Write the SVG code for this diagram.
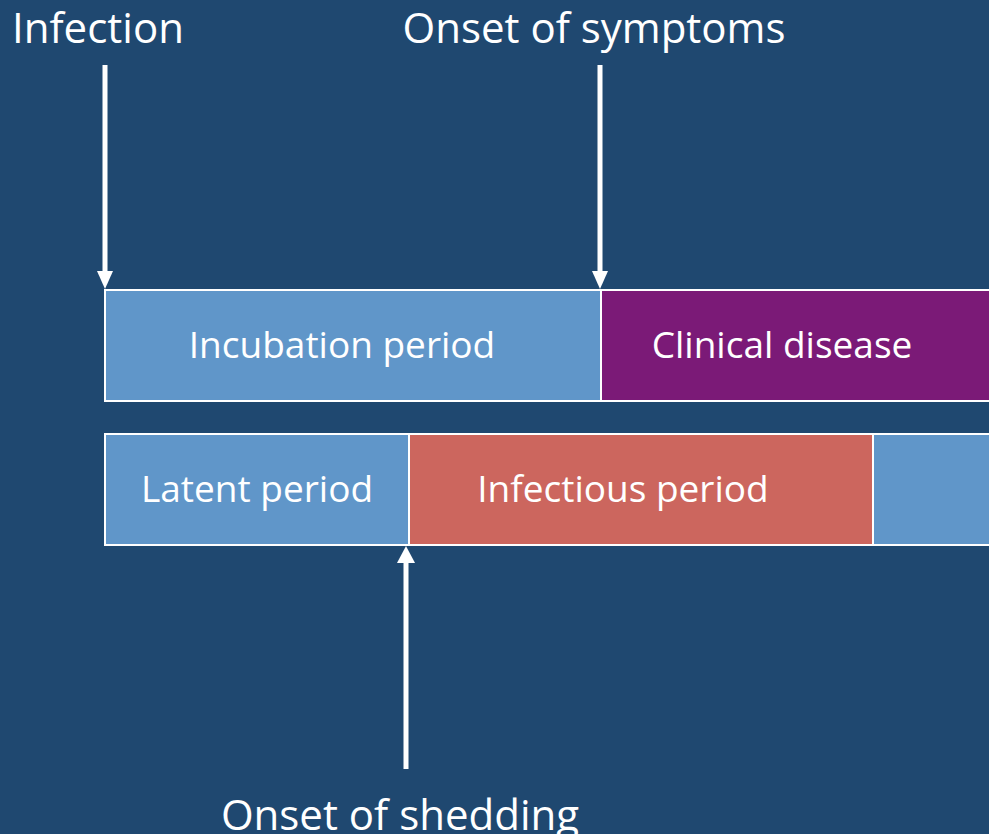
<svg xmlns="http://www.w3.org/2000/svg" width="989" height="834" viewBox="0 0 989 834">
<style>
.lbl{font-family:"Open Sans","Liberation Sans",sans-serif;font-size:42px;fill:#ffffff}
.in{font-size:37px}
.bar{stroke:#ffffff;stroke-width:2}
.arr{stroke:#ffffff;stroke-width:5;fill:none}
.head{fill:#ffffff}
</style>
<rect x="0" y="0" width="989" height="834" fill="#1F4870"/>
<g id="incubation"><rect class="bar" x="105" y="290" width="496" height="111" fill="#6096C9"/><text class="lbl in" x="342" y="358" text-anchor="middle">Incubation period</text></g>
<g id="clinical"><rect class="bar" x="601" y="290" width="400" height="111" fill="#7B1A77"/><text class="lbl in" x="782" y="358" text-anchor="middle">Clinical disease</text></g>
<g id="latent"><rect class="bar" x="105" y="434" width="304" height="111" fill="#6096C9"/><text class="lbl in" x="257" y="502" text-anchor="middle">Latent period</text></g>
<g id="infectious"><rect class="bar" x="409" y="434" width="464" height="111" fill="#CC665E"/><text class="lbl in" x="623" y="502" text-anchor="middle">Infectious period</text></g>
<g id="after"><rect class="bar" x="873" y="434" width="130" height="111" fill="#6096C9"/></g>
<g id="infection"><text class="lbl" x="12" y="43">Infection</text></g>
<g id="symptoms"><text class="lbl" x="594" y="43" text-anchor="middle">Onset of symptoms</text></g>
<g id="shedding"><text class="lbl" x="400" y="830" text-anchor="middle">Onset of shedding</text></g>
<g id="connectors">
<line class="arr" x1="105" y1="65" x2="105" y2="272"/>
<polygon class="head" points="97,271 113,271 105,289"/>
<line class="arr" x1="600" y1="65" x2="600" y2="272"/>
<polygon class="head" points="592,271 608,271 600,289"/>
<line class="arr" x1="406" y1="769" x2="406" y2="562"/>
<polygon class="head" points="397,563 415,563 406,546"/>
</g>
</svg>
